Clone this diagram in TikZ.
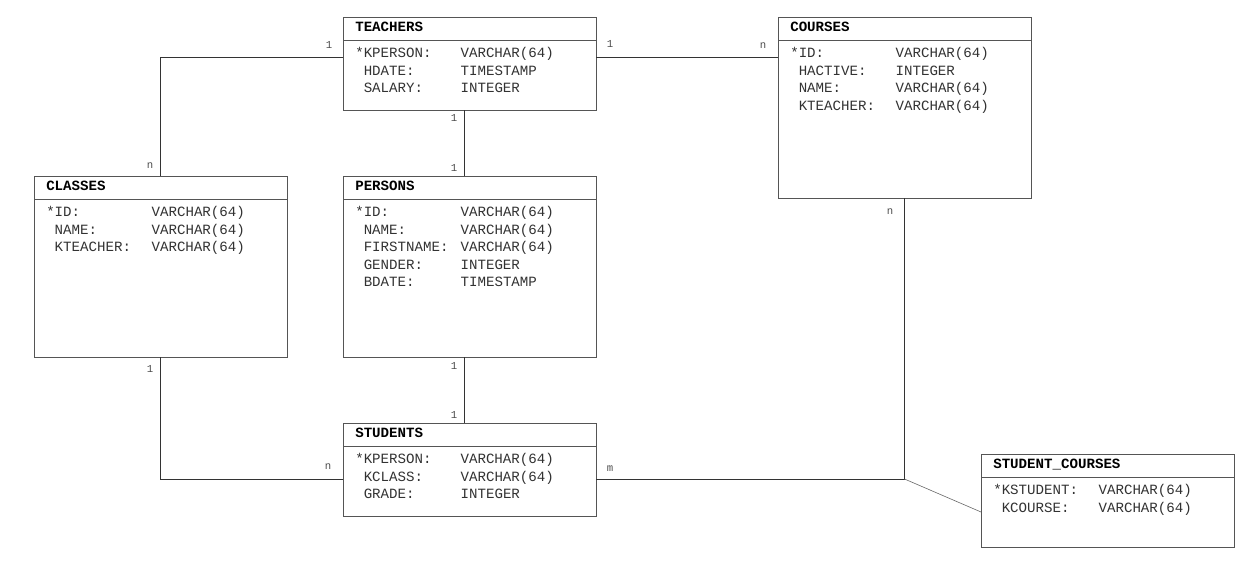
\documentclass[tikz,border=0pt]{standalone}
\usepackage{fontspec}
\setmonofont{Liberation Mono}
\usetikzlibrary{positioning}
\definecolor{erline}{RGB}{85,85,85}
\definecolor{ertext}{RGB}{50,50,50}

% key marker and its blank twin, so the names line up
\newcommand{\nk}{\hphantom{*}}
% one table: name, top left corner, height, title, field rows
\newcommand{\ertable}[5]{%
  \node[tbl,minimum height=#3] (#1) at #2 {};
  \draw[tbl rule] ([shift={(0,23.5)}]#1.north west) -- ([shift={(0,23.5)}]#1.north east);
  \node[tbl title] (#1-title) at ([shift={(12,14.5)}]#1.north west) {#4};
  \node[tbl fields] (#1-fields) at ([shift={(12,40.5)}]#1.north west)
    {\begin{tabular}[t]{@{}p{79pt}@{}l@{}}#5\end{tabular}};
}

\begin{document}
\begin{tikzpicture}[
  x=0.75pt,y=-0.75pt,
  tbl/.style={draw=erline,line width=0.6pt,anchor=north west,
              minimum width=189.75pt,inner sep=0pt,outer sep=0pt},
  tbl rule/.style={draw=erline,line width=0.6pt},
  tbl title/.style={anchor=base west,inner sep=0pt,
                    font=\fontsize{10.6}{13.2}\selectfont\ttfamily\bfseries},
  tbl fields/.style={anchor=base west,inner sep=0pt,text=ertext,
                     font=\fontsize{10.6}{13.2}\selectfont\ttfamily},
  link/.style={draw=black!80,line width=0.6pt},
  sublink/.style={draw=black!60,line width=0.45pt},
  card/.style={inner sep=0pt,text=black!70,font=\fontsize{8}{9}\selectfont\ttfamily}
]
  \useasboundingbox (0,0) rectangle (1249,564);

  % tables
  \ertable{teachers}{(343,17)}{69.75pt}{TEACHERS}{%
    *KPERSON: & VARCHAR(64)\\ \nk HDATE: & TIMESTAMP\\ \nk SALARY: & INTEGER}
  \ertable{courses}{(778,17)}{136.1pt}{COURSES}{%
    *ID: & VARCHAR(64)\\ \nk HACTIVE: & INTEGER\\ \nk NAME: & VARCHAR(64)\\
    \nk KTEACHER: & VARCHAR(64)}
  \ertable{classes}{(34,176)}{136.1pt}{CLASSES}{%
    *ID: & VARCHAR(64)\\ \nk NAME: & VARCHAR(64)\\ \nk KTEACHER: & VARCHAR(64)}
  \ertable{persons}{(343,176)}{136.1pt}{PERSONS}{%
    *ID: & VARCHAR(64)\\ \nk NAME: & VARCHAR(64)\\ \nk FIRSTNAME: & VARCHAR(64)\\
    \nk GENDER: & INTEGER\\ \nk BDATE: & TIMESTAMP}
  \ertable{students}{(343,423)}{69.75pt}{STUDENTS}{%
    *KPERSON: & VARCHAR(64)\\ \nk KCLASS: & VARCHAR(64)\\ \nk GRADE: & INTEGER}
  \ertable{studcourses}{(981,454)}{69.75pt}{STUDENT\_COURSES}{%
    *KSTUDENT: & VARCHAR(64)\\ \nk KCOURSE: & VARCHAR(64)}

  % relations
  \draw[link] ([shift={(0,40)}]teachers.north west) -| (classes.north);
  \draw[link] ([shift={(0,40)}]teachers.north east) -- ([shift={(0,40)}]courses.north west);
  \draw[link] ([shift={(-5,0)}]teachers.south) -- ([shift={(-5,0)}]persons.north);
  \draw[link] ([shift={(-5,0)}]persons.south) -- ([shift={(-5,0)}]students.north);
  \draw[link] (classes.south) |- ([shift={(0,56)}]students.north west);
  \draw[link] ([shift={(0,56)}]students.north east) -| coordinate[pos=0.5] (join) (courses.south);
  \draw[sublink] (join) -- ([shift={(0,58)}]studcourses.north west);

  % cardinalities
  \node[card] (c-teach-cls) at (329,45) {1};
  \node[card] (c-cls-teach) at (150,166) {n};
  \node[card] (c-teach-crs) at (610,44) {1};
  \node[card] (c-crs-teach) at (763,46) {n};
  \node[card] (c-teach-per) at (454,118) {1};
  \node[card] (c-per-teach) at (454,168) {1};
  \node[card] (c-per-stu) at (454,366) {1};
  \node[card] (c-stu-per) at (454,415) {1};
  \node[card] (c-cls-stu) at (150,369) {1};
  \node[card] (c-stu-cls) at (328,467) {n};
  \node[card] (c-stu-crs) at (610,469) {m};
  \node[card] (c-crs-stu) at (890,212) {n};
\end{tikzpicture}
\end{document}
